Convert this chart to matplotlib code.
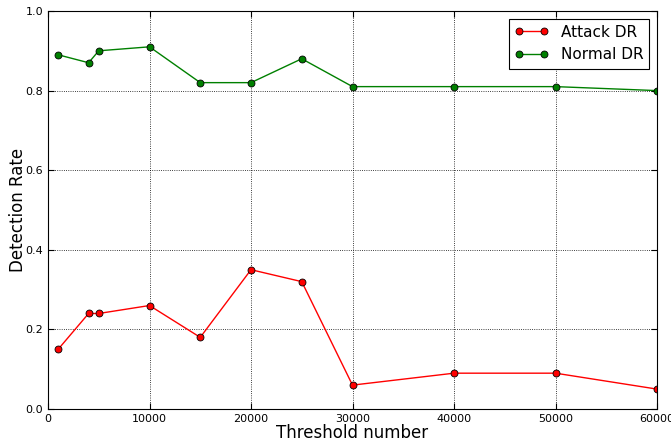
import matplotlib
matplotlib.use("Agg")
import matplotlib.pyplot as plt

thresholds = [1000, 4000, 5000, 10000, 15000, 20000, 25000, 30000, 40000, 50000, 60000]
attack_dr = [0.15, 0.24, 0.24, 0.26, 0.18, 0.35, 0.32, 0.06, 0.09, 0.09, 0.05]
normal_dr = [0.89, 0.87, 0.90, 0.91, 0.82, 0.82, 0.88, 0.81, 0.81, 0.81, 0.80]

fig = plt.figure(figsize=(6.71, 4.41), dpi=100)
ax = fig.add_axes([48 / 671, 1 - 409 / 441, (657 - 48) / 671, (409 - 11) / 441])

ax.plot(thresholds, attack_dr, color="red", marker="o", markersize=5,
        markeredgecolor="black", markeredgewidth=0.6, linewidth=1, label="Attack DR")
ax.plot(thresholds, normal_dr, color="green", marker="o", markersize=5,
        markeredgecolor="black", markeredgewidth=0.6, linewidth=1, label="Normal DR")

ax.set_xlim(0, 60000)
ax.set_ylim(0, 1.0)
ax.set_xticks([0, 10000, 20000, 30000, 40000, 50000, 60000])
ax.set_yticks([0.0, 0.2, 0.4, 0.6, 0.8, 1.0])
ax.tick_params(direction="in", labelsize=8, top=True, right=True, length=4)
ax.grid(True, linestyle=":", color="black", linewidth=0.6)
ax.set_xlabel("Threshold number", fontsize=12, labelpad=0)
ax.set_ylabel("Detection Rate", fontsize=12, labelpad=-1)

leg = ax.legend(loc="upper right", fontsize=11, fancybox=False, framealpha=1,
                edgecolor="black", borderaxespad=0.5, numpoints=2, handlelength=2.2)
leg.get_frame().set_linewidth(0.8)

fig.savefig("out.png", dpi=100)
